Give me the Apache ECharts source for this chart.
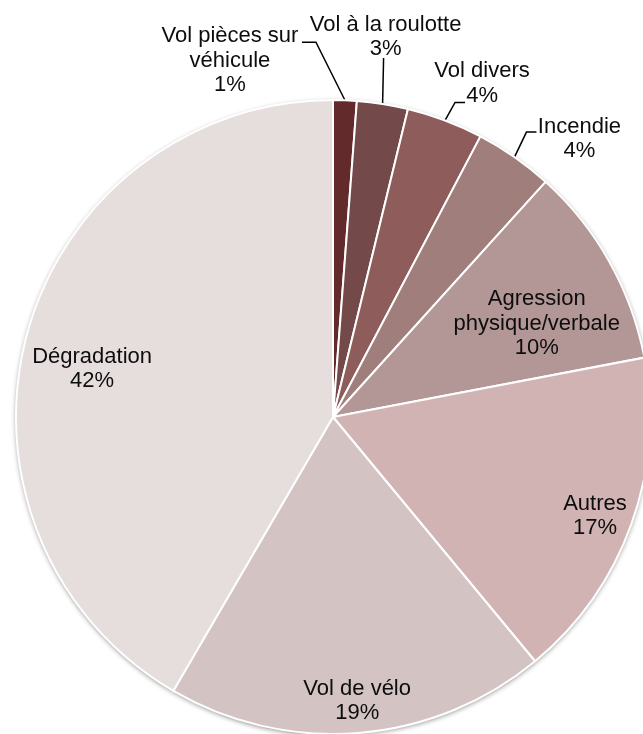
<!DOCTYPE html>
<html>
<head>
<meta charset="utf-8">
<title>Répartition des faits</title>
<script src="https://cdn.jsdelivr.net/npm/echarts@6/dist/echarts.min.js"></script>
<style>
  html, body { margin: 0; padding: 0; background: #ffffff; }
  #chart { width: 643px; height: 734px; }
</style>
</head>
<body>
<div id="chart"></div>
<script>
// Categories, clockwise from twelve o'clock
const categories = [
  'Vol pièces sur\nvéhicule',
  'Vol à la roulotte',
  'Vol divers',
  'Incendie',
  'Agression\nphysique/verbale',
  'Autres',
  'Vol de vélo',
  'Dégradation'
];
// Share of each category (%)
const values = [1.2, 2.6, 3.9, 4.0, 10.3, 17.0, 19.4, 41.6];
// Slice colours, dark maroon to pale rose
const colors = ['#622a2a', '#744949', '#8e5c5b', '#a07e7c', '#b39696', '#d1b3b3', '#d4c3c3', '#e6dddd'];

// Small slices get an outside label with an elbow leader line
const outside = [true, true, true, true, false, false, false, false];

// Label placement, relative to the anchor the library computes:
// inside labels -> shift [dx, dy] from the default inside position;
// outside labels -> elbow / line end / label centre, offsets from the slice's edge point.
const labelShift = {
  4: [63, -14],
  5: [110, 44],
  6: [11, 123],
  7: [-85, -6]
};
const leader = {
  0: { bend: [-29, -58], end: [-43, -58], text: [-115, -39.5] },
  1: { bend: [1, -46],   end: [1, -46],   text: [3, -67] },
  2: { bend: [10, -18],  end: [20, -18],  text: [37, -37] },
  3: { bend: [12, -25],  end: [22, -25],  text: [65, -18] }
};

const chart = echarts.init(document.getElementById('chart'), null, { renderer: 'canvas' });

const center = [333, 417];
const radius = 317;

const sliceData = categories.map((name, i) => ({
  name: name,
  value: values[i],
  itemStyle: { color: colors[i] },
  label: { position: outside[i] ? 'outside' : 'inside' },
  labelLine: { show: outside[i] }
}));

chart.setOption({
  animation: false,
  backgroundColor: '#ffffff',
  series: [
    {
      // soft drop shadow under the disc
      type: 'pie',
      silent: true,
      z: 1,
      center: center,
      radius: radius,
      startAngle: 90,
      clockwise: true,
      label: { show: false },
      labelLine: { show: false },
      itemStyle: {
        color: '#ffffff',
        shadowBlur: 5,
        shadowColor: 'rgba(0,0,0,0.45)',
        shadowOffsetY: 1.5
      },
      data: categories.map((name, i) => ({ name: name, value: values[i] }))
    },
    {
      type: 'pie',
      z: 2,
      center: center,
      radius: radius,
      startAngle: 90,
      clockwise: true,
      avoidLabelOverlap: false,
      itemStyle: { borderColor: '#ffffff', borderWidth: 2 },
      label: {
        show: true,
        formatter: p => p.name + '\n' + Math.round(p.percent) + '%',
        fontFamily: '"Liberation Sans", Arial, sans-serif',
        fontSize: 22,
        lineHeight: 24.5,
        color: '#0d0d0d',
        align: 'center'
      },
      labelLine: {
        show: false,
        length: 20,
        length2: 10,
        lineStyle: { color: '#000000', width: 1.5 }
      },
      labelLayout: function (params) {
        const i = params.dataIndex;
        if (params.seriesIndex !== 1) return {};
        if (!outside[i]) {
          const s = labelShift[i] || [0, 0];
          return { dx: s[0], dy: s[1], align: 'center', verticalAlign: 'middle' };
        }
        const pts = params.labelLinePoints;
        if (!pts) return {};
        const p0 = pts[0];
        const L = leader[i];
        return {
          x: p0[0] + L.text[0],
          y: p0[1] + L.text[1],
          align: 'center',
          verticalAlign: 'middle',
          labelLinePoints: [
            [p0[0], p0[1]],
            [p0[0] + L.bend[0], p0[1] + L.bend[1]],
            [p0[0] + L.end[0], p0[1] + L.end[1]]
          ]
        };
      },
      data: sliceData
    }
  ]
});
</script>
</body>
</html>
